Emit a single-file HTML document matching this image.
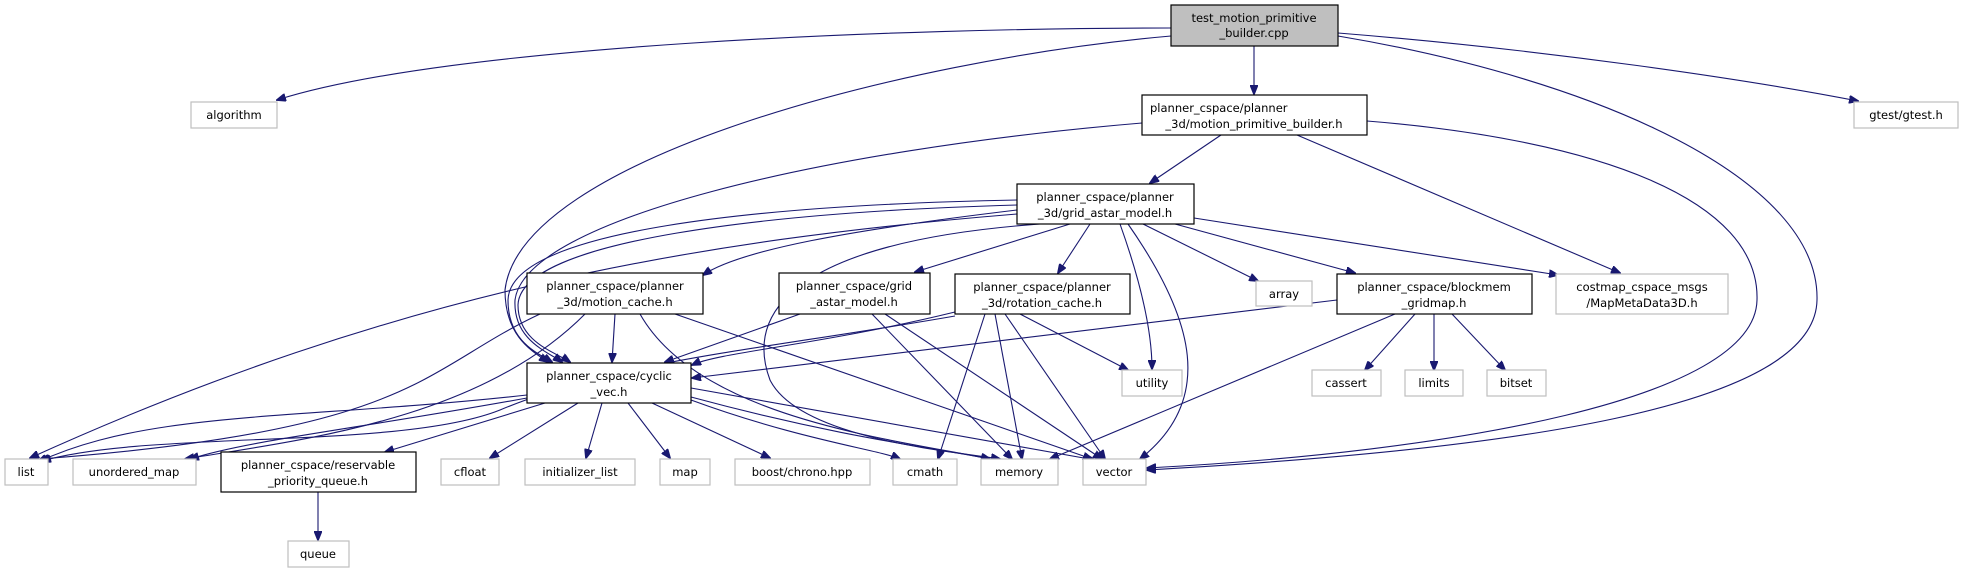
<!DOCTYPE html>
<html><head><meta charset="utf-8"><style>
html,body{margin:0;padding:0;background:#fff;}
svg{display:block;}
text{font-family:"DejaVu Sans","Liberation Sans",sans-serif;font-size:11.5px;fill:#000;text-anchor:middle;}
.e{fill:none;stroke:#191970;stroke-width:1.1;marker-end:url(#a);}
.n{fill:#fff;stroke:#000;stroke-width:1.2;}
.x{fill:#fff;stroke:#bfbfbf;stroke-width:1.2;}
</style></head><body>
<svg width="1964" height="573" viewBox="0 0 1964 573" xmlns="http://www.w3.org/2000/svg">
<defs><marker id="a" markerWidth="10" markerHeight="8" refX="9" refY="4" orient="auto" markerUnits="userSpaceOnUse"><path d="M0,0 L10,4 L0,8 z" fill="#191970" stroke="#191970"/></marker></defs>
<!-- edges -->
<path class="e" d="M1171,28 C900,28 450,45 277,100"/>
<path class="e" d="M1171,36 C900,60 520,160 505,290 C505,335 530,350 548,362"/>
<path class="e" d="M1254,46 L1254,94"/>
<path class="e" d="M1338,33 C1550,50 1750,80 1858,101"/>
<path class="e" d="M1338,36 C1600,80 1820,180 1817,300 C1815,410 1500,450 1147,470"/>
<path class="e" d="M1221,135 L1150,183"/>
<path class="e" d="M1142,123 C820,150 525,220 515,300 C513,340 548,352 562,362"/>
<path class="e" d="M1297,135 L1620,273"/>
<path class="e" d="M1367,121 C1600,140 1760,200 1757,300 C1755,400 1450,452 1147,468"/>
<path class="e" d="M1017,210 C850,230 740,250 703,275"/>
<path class="e" d="M1070,224 L915,272"/>
<path class="e" d="M1090,224 L1058,273"/>
<path class="e" d="M1017,200 C760,205 510,230 508,300 C508,340 535,352 552,362"/>
<path class="e" d="M1017,205 C770,212 520,240 518,305 C518,342 555,352 570,362"/>
<path class="e" d="M1017,214 C700,240 400,290 30,458"/>
<path class="e" d="M1040,224 C820,240 740,300 770,380 C800,440 960,452 1000,459"/>
<path class="e" d="M1120,224 C1140,280 1152,330 1152,369"/>
<path class="e" d="M1128,224 C1195,320 1215,400 1140,459"/>
<path class="e" d="M1143,224 L1258,281"/>
<path class="e" d="M1175,224 L1355,273"/>
<path class="e" d="M1194,218 L1558,275"/>
<path class="e" d="M615,314 L612,362"/>
<path class="e" d="M540,314 C420,370 420,430 40,459"/>
<path class="e" d="M585,314 C480,420 300,440 185,459"/>
<path class="e" d="M640,314 C700,420 900,440 990,459"/>
<path class="e" d="M675,314 L1092,459"/>
<path class="e" d="M800,314 L665,362"/>
<path class="e" d="M872,314 L1012,459"/>
<path class="e" d="M885,314 L1102,459"/>
<path class="e" d="M955,312 C820,345 720,352 692,365"/>
<path class="e" d="M955,316 C760,350 620,360 500,410 C400,450 150,430 42,461"/>
<path class="e" d="M985,314 L938,459"/>
<path class="e" d="M995,314 L1022,459"/>
<path class="e" d="M1005,314 L1105,459"/>
<path class="e" d="M1020,314 L1128,370"/>
<path class="e" d="M1337,300 L692,378"/>
<path class="e" d="M1395,314 L1050,459"/>
<path class="e" d="M1415,314 L1365,370"/>
<path class="e" d="M1434,314 L1434,370"/>
<path class="e" d="M1452,314 L1505,370"/>
<path class="e" d="M527,395 C300,420 150,410 38,462"/>
<path class="e" d="M527,398 C350,430 250,440 190,459"/>
<path class="e" d="M545,403 L385,452"/>
<path class="e" d="M578,403 L490,458"/>
<path class="e" d="M602,403 L586,458"/>
<path class="e" d="M628,403 L670,458"/>
<path class="e" d="M652,403 L770,458"/>
<path class="e" d="M691,400 C800,440 880,450 900,459"/>
<path class="e" d="M691,397 C850,440 950,450 990,459"/>
<path class="e" d="M691,388 L1095,460"/>
<path class="e" d="M318,492 L318,540"/>
<!-- nodes -->
<rect x="1171" y="5" width="167" height="41" fill="#bfbfbf" stroke="#000" stroke-width="1.2"/>
<text x="1254" y="22">test_motion_primitive</text><text x="1254" y="37">_builder.cpp</text>
<rect class="x" x="191" y="102" width="86" height="26"/><text x="234" y="119">algorithm</text>
<rect class="x" x="1854" y="102" width="104" height="26"/><text x="1906" y="119">gtest/gtest.h</text>
<rect class="n" x="1142" y="95" width="225" height="40"/>
<text x="1150" y="112" style="text-anchor:start">planner_cspace/planner</text><text x="1254" y="128">_3d/motion_primitive_builder.h</text>
<rect class="n" x="1017" y="184" width="177" height="40"/>
<text x="1105" y="201">planner_cspace/planner</text><text x="1105" y="217">_3d/grid_astar_model.h</text>
<rect class="n" x="527" y="273" width="176" height="41"/>
<text x="615" y="290">planner_cspace/planner</text><text x="615" y="306">_3d/motion_cache.h</text>
<rect class="n" x="779" y="273" width="151" height="41"/>
<text x="854" y="290">planner_cspace/grid</text><text x="854" y="306">_astar_model.h</text>
<rect class="n" x="955" y="274" width="175" height="40"/>
<text x="1042" y="291">planner_cspace/planner</text><text x="1042" y="307">_3d/rotation_cache.h</text>
<rect class="x" x="1256" y="281" width="56" height="25"/><text x="1284" y="298">array</text>
<rect class="n" x="1337" y="274" width="195" height="40"/>
<text x="1434" y="291">planner_cspace/blockmem</text><text x="1434" y="307">_gridmap.h</text>
<rect class="x" x="1556" y="274" width="172" height="40"/>
<text x="1642" y="291">costmap_cspace_msgs</text><text x="1642" y="307">/MapMetaData3D.h</text>
<rect class="n" x="527" y="363" width="164" height="40"/>
<text x="609" y="380">planner_cspace/cyclic</text><text x="609" y="396">_vec.h</text>
<rect class="x" x="1122" y="370" width="60" height="26"/><text x="1152" y="387">utility</text>
<rect class="x" x="1312" y="370" width="69" height="26"/><text x="1346" y="387">cassert</text>
<rect class="x" x="1405" y="370" width="58" height="26"/><text x="1434" y="387">limits</text>
<rect class="x" x="1487" y="370" width="59" height="26"/><text x="1516" y="387">bitset</text>
<rect class="x" x="5" y="459" width="43" height="26"/><text x="26" y="476">list</text>
<rect class="x" x="73" y="459" width="123" height="26"/><text x="134" y="476">unordered_map</text>
<rect class="n" x="221" y="452" width="195" height="40"/>
<text x="318" y="469">planner_cspace/reservable</text><text x="318" y="485">_priority_queue.h</text>
<rect class="x" x="441" y="459" width="58" height="26"/><text x="470" y="476">cfloat</text>
<rect class="x" x="525" y="459" width="110" height="26"/><text x="580" y="476">initializer_list</text>
<rect class="x" x="660" y="459" width="50" height="26"/><text x="685" y="476">map</text>
<rect class="x" x="735" y="459" width="135" height="26"/><text x="802" y="476">boost/chrono.hpp</text>
<rect class="x" x="893" y="459" width="64" height="26"/><text x="925" y="476">cmath</text>
<rect class="x" x="981" y="459" width="77" height="26"/><text x="1019" y="476">memory</text>
<rect class="x" x="1083" y="459" width="63" height="26"/><text x="1114" y="476">vector</text>
<rect class="x" x="288" y="541" width="61" height="26"/><text x="318" y="558">queue</text>
</svg>
</body></html>
